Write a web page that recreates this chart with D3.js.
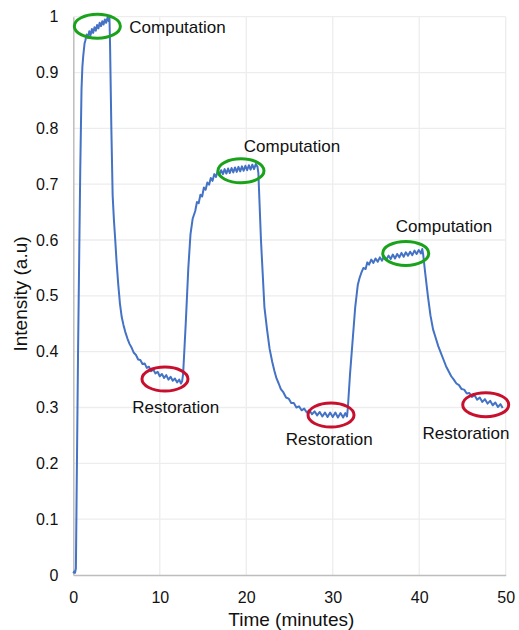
<!DOCTYPE html>
<html>
<head>
<meta charset="utf-8">
<script src="https://cdn.jsdelivr.net/npm/d3@7"></script>
<style>
  html, body { margin: 0; padding: 0; background: #fff; }
  svg { display: block; font-family: "Liberation Sans", Arial, Helvetica, sans-serif; }
</style>
</head>
<body>
<svg id="chart" width="519" height="630"></svg>
<script>
// ---------------- data ----------------
const timeMin = [
  0, 0.1, 0.2, 0.3, 0.55, 0.8, 0.95, 1.05, 1.15, 1.3,
  1.40, 1.55, 1.70, 1.85, 2.00, 2.15, 2.30, 2.45, 2.60, 2.75, 2.90, 3.05, 3.20, 3.35, 3.50, 3.65, 3.80, 3.95, 4.10, 4.18,
  4.25, 4.40, 4.55, 4.70, 4.85, 5.00, 5.20, 5.40, 5.60, 5.80, 6.00, 6.25, 6.50, 6.75, 7.00, 7.25, 7.50, 7.75, 8.00, 8.25,
  8.50, 8.75, 9.00, 9.25, 9.50, 9.75, 10.00, 10.25, 10.50, 10.75, 11.00, 11.25, 11.50, 11.75, 12.00, 12.25, 12.45, 12.58,
  12.70, 13.00, 13.30, 13.55, 13.80, 14.10, 14.30, 14.50, 14.70, 14.90, 15.10, 15.30, 15.50, 15.70, 15.90, 16.10, 16.30, 16.50,
  16.70, 16.90, 17.10, 17.30, 17.50, 17.70, 17.90, 18.10, 18.30, 18.50, 18.70, 18.90, 19.10, 19.30, 19.50, 19.70, 19.90, 20.10,
  20.30, 20.50, 20.70, 20.90, 21.10, 21.30,
  21.40, 21.55, 21.70, 21.90, 22.10, 22.40, 22.70, 23.00, 23.25, 23.50, 23.75, 24.00, 24.30, 24.60, 24.90, 25.20, 25.50, 25.80,
  26.10, 26.40, 26.70, 27.00, 27.30, 27.60, 27.90, 28.20, 28.50, 28.80, 29.10, 29.40, 29.70, 30.00, 30.30, 30.60, 30.90, 31.20,
  31.45, 31.65,
  31.75, 32.00, 32.30, 32.60, 32.90, 33.10, 33.30, 33.55, 33.80, 34.00, 34.20, 34.45, 34.70, 34.95, 35.20, 35.45, 35.70, 35.95,
  36.20, 36.45, 36.70, 36.95, 37.20, 37.45, 37.70, 37.95, 38.20, 38.45, 38.70, 38.95, 39.20, 39.45, 39.70, 39.95, 40.20, 40.35,
  40.45, 40.70, 41.00, 41.30, 41.60, 41.90, 42.20, 42.50, 42.80, 43.10, 43.40, 43.70, 44.00, 44.30, 44.60, 44.90, 45.20, 45.50,
  45.80, 46.10, 46.40, 46.70, 47.00, 47.30, 47.60, 47.90, 48.20, 48.50, 48.80, 49.10, 49.40, 49.65
];
const intensity = [
  0.003, 0.006, 0.004, 0.012, 0.40, 0.72, 0.87, 0.91, 0.93, 0.952,
  0.958, 0.968, 0.962, 0.974, 0.967, 0.978, 0.971, 0.981, 0.975, 0.985, 0.979, 0.989, 0.983, 0.992, 0.986, 0.995, 0.989, 0.998, 0.992, 0.999,
  0.95, 0.80, 0.68, 0.635, 0.60, 0.562, 0.52, 0.485, 0.462, 0.448, 0.436, 0.424, 0.414, 0.407, 0.398, 0.394, 0.386, 0.385, 0.378, 0.379,
  0.371, 0.373, 0.365, 0.368, 0.361, 0.364, 0.356, 0.360, 0.353, 0.358, 0.350, 0.355, 0.348, 0.352, 0.345, 0.350, 0.343, 0.347,
  0.36, 0.45, 0.55, 0.61, 0.638, 0.652, 0.668, 0.666, 0.681, 0.678, 0.694, 0.690, 0.703, 0.699, 0.711, 0.706, 0.718, 0.713,
  0.724, 0.717, 0.725, 0.718, 0.727, 0.719, 0.728, 0.720, 0.729, 0.721, 0.730, 0.722, 0.731, 0.723, 0.732, 0.724, 0.733, 0.725,
  0.734, 0.726, 0.735, 0.727, 0.736, 0.731,
  0.72, 0.66, 0.60, 0.54, 0.48, 0.44, 0.405, 0.382, 0.366, 0.352, 0.343, 0.333, 0.327, 0.318, 0.316, 0.308, 0.308, 0.300,
  0.302, 0.295, 0.298, 0.291, 0.295, 0.288, 0.293, 0.286, 0.292, 0.284, 0.291, 0.283, 0.291, 0.283, 0.291, 0.282, 0.290, 0.282,
  0.290, 0.284,
  0.30, 0.36, 0.42, 0.48, 0.52, 0.532, 0.541, 0.550, 0.548, 0.560, 0.556, 0.565, 0.559, 0.567, 0.561, 0.569, 0.563, 0.571,
  0.565, 0.572, 0.566, 0.574, 0.567, 0.575, 0.569, 0.577, 0.570, 0.578, 0.572, 0.579, 0.573, 0.581, 0.575, 0.582, 0.576, 0.584,
  0.575, 0.54, 0.50, 0.465, 0.44, 0.425, 0.410, 0.398, 0.386, 0.374, 0.365, 0.356, 0.350, 0.343, 0.340, 0.333, 0.332, 0.325,
  0.326, 0.319, 0.322, 0.314, 0.318, 0.310, 0.315, 0.307, 0.312, 0.304, 0.309, 0.301, 0.306, 0.299
];
const xTicks = [0, 10, 20, 30, 40, 50];
const yTicks = [0, 0.1, 0.2, 0.3, 0.4, 0.5, 0.6, 0.7, 0.8, 0.9, 1];
const yTickLabels = ["0", "0.1", "0.2", "0.3", "0.4", "0.5", "0.6", "0.7", "0.8", "0.9", "1"];
const xTitle = "Time (minutes)";
const yTitle = "Intensity (a.u)";
// annotations: ellipse centre (data units) and label anchor (data units)
const annKind   = ["comp", "comp", "comp", "rest", "rest", "rest"];
const annText   = ["Computation", "Computation", "Computation", "Restoration", "Restoration", "Restoration"];
const annCx     = [2.78, 19.39, 38.44, 10.60, 29.80, 47.69];
const annCy     = [0.983, 0.724, 0.576, 0.351, 0.2866, 0.305];
const annLabelX = [12.05, 25.29, 42.87, 11.85, 29.60, 45.41];
const annLabelY = [0.971, 0.758, 0.615, 0.2896, 0.2328, 0.2431];

// ---------------- layout ----------------
const W = 519, H = 630;
const margin = { left: 73.3, right: 13.3, top: 16.7, bottom: 55 };
const svg = d3.select("#chart");
const x = d3.scaleLinear().domain([0, 50]).range([margin.left, W - margin.right]);
const y = d3.scaleLinear().domain([0, 1]).range([H - margin.bottom, margin.top]);

// gridlines
const grid = svg.append("g");
grid.selectAll("line.h").data(yTicks.slice(1)).join("line")
  .attr("x1", x(0)).attr("x2", x(50))
  .attr("y1", d => y(d)).attr("y2", d => y(d))
  .attr("stroke", "#ededed").attr("stroke-width", 1.3);
grid.selectAll("line.v").data(xTicks.slice(1)).join("line")
  .attr("y1", y(0)).attr("y2", y(1))
  .attr("x1", d => x(d)).attr("x2", d => x(d))
  .attr("stroke", "#ededed").attr("stroke-width", 1.3);

// axes
const xAxis = d3.axisBottom(x).tickValues(xTicks).tickSize(0).tickPadding(17).tickFormat(d3.format("d"));
const yAxis = d3.axisLeft(y).tickValues(yTicks).tickSize(0).tickPadding(15).tickFormat((d, i) => yTickLabels[i]);
const gx = svg.append("g").attr("transform", `translate(0,${y(0)})`).call(xAxis);
const gy = svg.append("g").attr("transform", `translate(${x(0)},0)`).call(yAxis);
[gx, gy].forEach(g => {
  g.select(".domain").attr("stroke", "#bdbdbd").attr("stroke-width", 1.5);
  g.selectAll("text").attr("font-size", 16).attr("fill", "#111")
    .attr("font-family", "'Liberation Sans', Arial, Helvetica, sans-serif");
});

// titles
svg.append("text").attr("x", 291.3).attr("y", 626)
  .attr("text-anchor", "middle").attr("font-size", 19).attr("fill", "#111").text(xTitle);
svg.append("text").attr("transform", "translate(27,294) rotate(-90)")
  .attr("text-anchor", "middle").attr("font-size", 19).attr("fill", "#111").text(yTitle);

// series
const pts = timeMin.map((t, i) => [t, intensity[i]]);
svg.append("path").datum(pts)
  .attr("fill", "none").attr("stroke", "#4472C4").attr("stroke-width", 2)
  .attr("stroke-linejoin", "round")
  .attr("d", d3.line().x(d => x(d[0])).y(d => y(d[1])));

// annotations
const ann = annText.map((t, i) => ({ t, kind: annKind[i], cx: annCx[i], cy: annCy[i], lx: annLabelX[i], ly: annLabelY[i] }));
const ag = svg.append("g");
ag.selectAll("ellipse").data(ann).join("ellipse")
  .attr("cx", d => x(d.cx)).attr("cy", d => y(d.cy))
  .attr("rx", 23).attr("ry", 12)
  .attr("fill", "none")
  .attr("stroke", d => d.kind === "comp" ? "#1aa31a" : "#c8102e")
  .attr("stroke-width", 3);
ag.selectAll("text").data(ann).join("text")
  .attr("x", d => x(d.lx)).attr("y", d => y(d.ly))
  .attr("text-anchor", "middle").attr("font-size", 17).attr("fill", "#111")
  .text(d => d.t);
</script>
</body>
</html>
